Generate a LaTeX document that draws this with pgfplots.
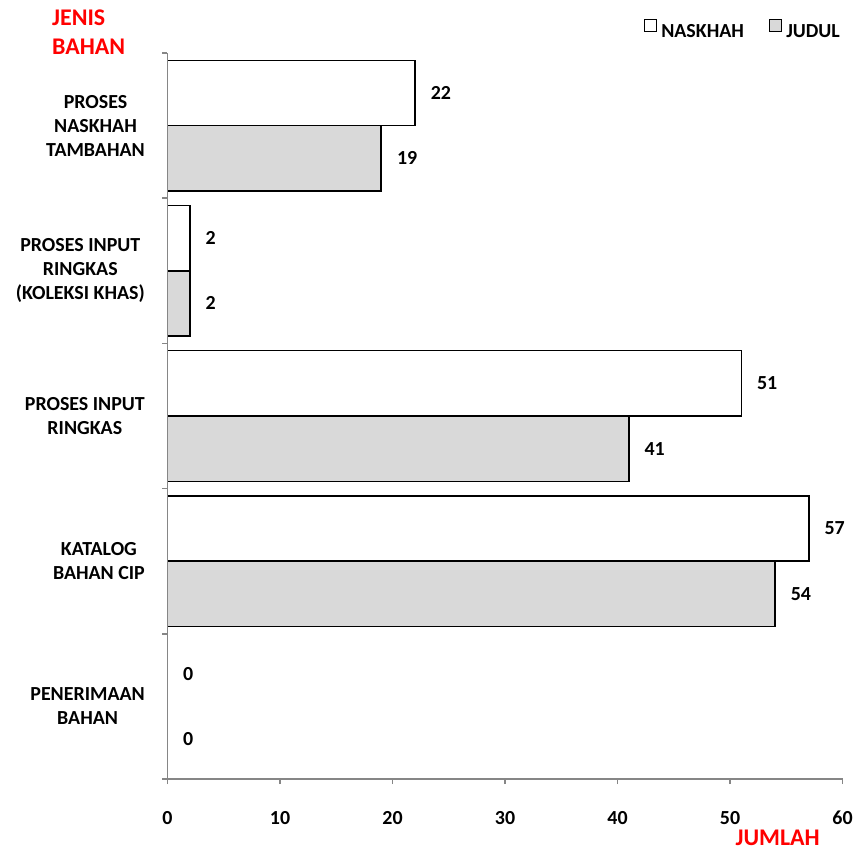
\documentclass[border=0pt]{standalone}
\usepackage{fontspec}
\setmainfont{Carlito}
\usepackage{pgfplots}
\pgfplotsset{compat=1.18}

\definecolor{axgrey}{HTML}{868686}
\definecolor{judulfill}{HTML}{D9D9D9}
\definecolor{titlered}{HTML}{FF0000}

\newcommand{\lblfont}{\fontsize{20}{24}\selectfont\bfseries}
\newcommand{\ttlfont}{\fontsize{24}{29}\selectfont\bfseries}

\begin{document}
\begin{tikzpicture}
\useasboundingbox (-167.5bp,-71bp) rectangle (688.5bp,779bp);
\begin{axis}[
    at={(0,0)}, anchor=south west,
    scale only axis,
    width=675bp, height=726bp,
    xbar=0pt, bar width=0.45,
    xmin=0, xmax=60, ymin=-0.5, ymax=4.5,
    axis x line*=bottom, axis y line*=left,
    axis line style={axgrey, line width=1.5bp},
    axis on top,
    tick align=outside,
    major tick length=5bp,
    every tick/.style={axgrey, line width=1.5bp},
    xtick={0,10,...,60},
    ytick={-0.5,0.5,...,4.5},
    yticklabels={},
    extra y ticks={0,1,2,3,4},
    extra y tick labels={{PENERIMAAN\\BAHAN},{KATALOG\\BAHAN CIP},{PROSES INPUT\\RINGKAS},{PROSES INPUT\\RINGKAS\\(KOLEKSI KHAS)},{PROSES\\NASKHAH\\TAMBAHAN}},
    extra y tick style={major tick length=0pt, tick style={draw=none}},
    yticklabel style={anchor=east, align=center, inner sep=0pt, xshift=-22.5bp, font=\lblfont},
    xticklabel style={anchor=base, inner sep=0pt, yshift=-40.5bp, font=\lblfont},
    /pgf/number format/assume math mode=true,
    point meta=x,
    nodes near coords,
    every node near coord/.append style={anchor=west, inner sep=0pt, xshift=15bp, font=\lblfont, text=black},
    xlabel={JUMLAH},
    every axis x label/.style={at={(axis description cs:1,0)}, anchor=base east, xshift=-22.5bp, yshift=-66bp, inner sep=0pt, font=\ttlfont, text=titlered},
    ylabel={JENIS\\BAHAN},
    every axis y label/.style={at={(axis description cs:0,1)}, anchor=north west, xshift=-115.5bp, yshift=43bp, align=left, inner sep=0pt, font=\ttlfont, text=titlered},
    legend columns=2,
    legend style={at={(axis description cs:0.7059,1.0475)}, anchor=north west, draw=none, fill=none, inner sep=0pt, outer sep=0pt,
        nodes={inner sep=0pt, font=\lblfont},
        /tikz/every odd column/.append style={column sep=4bp},
        /tikz/every even column/.append style={column sep=25bp}},
]
\addplot[draw=black, fill=white, line width=1.5bp, bar shift=0.225,
    legend image code/.code={\draw[black, fill=white, line width=1.3bp] (0bp,0.5bp) rectangle (12bp,12.5bp);}]
    coordinates {(0,0) (57,1) (51,2) (2,3) (22,4)};
\addplot[draw=black, fill=judulfill, line width=1.5bp, bar shift=-0.225,
    legend image code/.code={\draw[black, fill=judulfill, line width=1.3bp] (0bp,0.5bp) rectangle (12bp,12.5bp);}]
    coordinates {(0,0) (54,1) (41,2) (2,3) (19,4)};
\legend{NASKHAH, JUDUL}
\end{axis}
\end{tikzpicture}
\end{document}
